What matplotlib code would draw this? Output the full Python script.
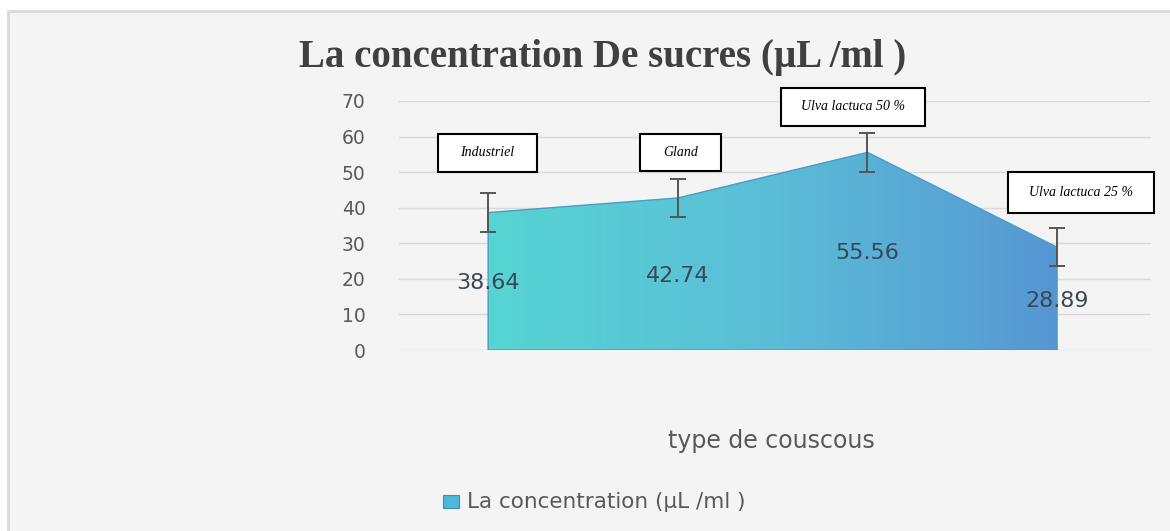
import matplotlib.pyplot as plt
import numpy as np
from matplotlib.colors import LinearSegmentedColormap
from matplotlib.patches import PathPatch, Rectangle

# data
categories = ["Industriel", "Gland", "Ulva lactuca 50 %", "Ulva lactuca 25 %"]
values = [38.64, 42.74, 55.56, 28.89]
errors = [5.4, 5.4, 5.4, 5.4]
yticks = [0, 10, 20, 30, 40, 50, 60, 70]

W, H = 1170, 531
fig = plt.figure(figsize=(W / 100, H / 100), dpi=100)
fig.patch.set_facecolor("white")

# grey panel like the excel chart area
fig.add_artist(Rectangle((8 / W, -0.05), 1.05 - 8 / W, 1.05 - 11 / H, transform=fig.transFigure,
                         facecolor="#f4f4f4", edgecolor="#d9d9d9", lw=2, zorder=0))

ax = fig.add_axes([399 / W, 1 - 350 / H, 752 / W, 249 / H])
ax.set_facecolor("none")
x = np.arange(len(values))

# gradient filled area
poly = ax.fill_between(x, values, 0, color="none")
clip = PathPatch(poly.get_paths()[0], transform=ax.transData,
                 facecolor="none", edgecolor="#4a9cc4", lw=1, zorder=3)
ax.add_patch(clip)
cmap = LinearSegmentedColormap.from_list("g", ["#56d5d3", "#5bbdd7", "#5697d3"])
grad = np.linspace(0, 1, 256).reshape(1, -1)
im = ax.imshow(grad, cmap=cmap, extent=[x[0], x[-1], 0, max(yticks)],
               aspect="auto", origin="lower", zorder=2)
im.set_clip_path(clip)

ax.errorbar(x, values, yerr=errors, fmt="none", ecolor="#555555",
            elinewidth=1.4, capsize=6, capthick=1.4, zorder=4)

for xi, v in zip(x, values):
    ax.text(xi, v / 2 - 0.6, f"{v:.2f}", ha="center", va="center",
            fontsize=16, color="#3a4855", zorder=5)

ax.set_xlim(-0.47, 3.495)
ax.set_ylim(0, 70)
ax.set_yticks(yticks)
ax.set_xticks([])
ax.yaxis.grid(True, color="#d9d9d9", lw=1)
ax.set_axisbelow(True)
ax.tick_params(axis="y", length=0, pad=24, labelsize=13.5, labelcolor="#595959")
for s in ax.spines.values():
    s.set_visible(False)

# category boxes (placed like the text boxes of the original)
boxes = [(438, 134, 99, 38), (640, 134, 81, 37), (781, 88, 144, 38), (1008, 172, 146, 41)]
for (bx, by, bw, bh), name in zip(boxes, categories):
    fig.add_artist(Rectangle((bx / W, 1 - (by + bh) / H), bw / W, bh / H,
                             transform=fig.transFigure, facecolor="white",
                             edgecolor="black", lw=1.5, zorder=6))
    fig.text((bx + bw / 2) / W, 1 - (by + bh / 2) / H, name, ha="center", va="center",
             fontsize=10, style="italic", family="Liberation Serif", zorder=7)

fig.text(603 / W, 1 - 67 / H, "La concentration De sucres (µL /ml )", ha="center",
         va="baseline", fontsize=28, fontweight="bold", family="Liberation Serif",
         color="#404040")
fig.text(771 / W, 1 - 441 / H, "type de couscous", ha="center", va="center",
         fontsize=17, color="#595959")

fig.add_artist(Rectangle((443 / W, 1 - 508 / H), 16 / W, 13 / H, transform=fig.transFigure,
                         facecolor="#4cb9d6", edgecolor="#3a8fb7", lw=0.8))
fig.text(467 / W, 1 - 502 / H, "La concentration (µL /ml )", ha="left", va="center",
         fontsize=15.5, color="#595959")

fig.savefig("out.png", dpi=100, facecolor=fig.get_facecolor())
